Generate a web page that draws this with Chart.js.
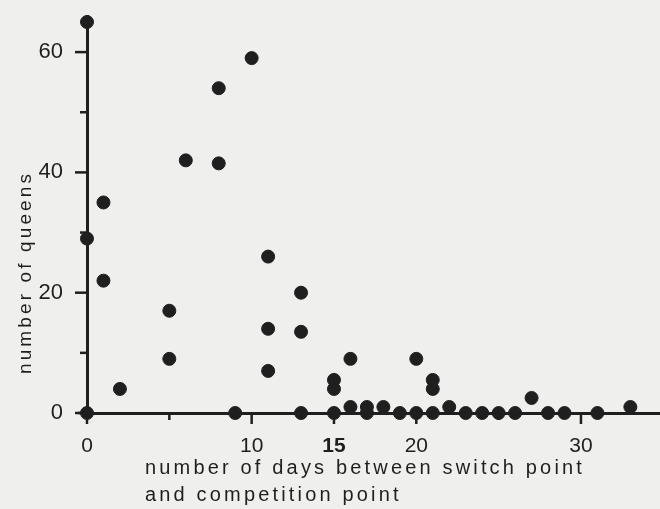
<!DOCTYPE html>
<html>
<head>
<meta charset="utf-8">
<script src="https://cdn.jsdelivr.net/npm/chart.js@4/dist/chart.umd.min.js"></script>
<style>
  html, body { margin: 0; padding: 0; background: #efefed; }
  #wrap { width: 660px; height: 509px; }
</style>
</head>
<body>
<div id="wrap"><canvas id="queensChart" width="660" height="509"></canvas></div>
<script>
// days between switch point and competition point, and number of queens
const days   = [0, 0, 0, 1, 1, 2, 5, 5, 6, 8, 8, 9, 10, 11, 11, 11, 13, 13, 13, 15, 15, 15, 16, 16, 17, 17, 18, 19, 20, 20, 21, 21, 21, 22, 23, 24, 25, 26, 27, 28, 29, 31, 33];
const queens = [65, 29, 0, 35, 22, 4, 17, 9, 42, 54, 41.5, 0, 59, 26, 14, 7, 20, 13.5, 0, 5.5, 4, 0, 9, 1, 1, 0, 1, 0, 9, 0, 5.5, 4, 0, 1, 0, 0, 0, 0, 2.5, 0, 0, 0, 1];

const xTicks = [0, 5, 10, 15, 20, 25, 30];
const xLabels = ["0", "", "10", "15", "20", "", "30"];
const yTicks = [0, 10, 20, 30, 40, 50, 60];
const yLabels = ["0", "", "20", "", "40", "", "60"];

const xTitle = ["number of days between switch point", "and competition point"];
const yTitle = "number of queens";

const ink = "#1f1f1f";
const face = "'Liberation Sans', Arial, sans-serif";

// tick marks and axis titles
const axisDecor = {
  id: "axisDecor",
  afterDraw(chart) {
    const ctx = chart.ctx;
    const xs = chart.scales.x, ys = chart.scales.y;
    const x0 = xs.getPixelForValue(0), y0 = ys.getPixelForValue(0);
    ctx.save();
    ctx.strokeStyle = ink;
    ctx.lineWidth = 2.5;
    ctx.beginPath();
    ctx.moveTo(x0 - 9, y0);
    ctx.lineTo(x0, y0);
    ctx.stroke();
    yTicks.forEach((v, i) => {
      const p = ys.getPixelForValue(v);
      const len = yLabels[i] ? 12 : 7;
      ctx.beginPath();
      ctx.moveTo(x0 - len, p);
      ctx.lineTo(x0, p);
      ctx.stroke();
    });
    xTicks.forEach((v, i) => {
      const p = xs.getPixelForValue(v);
      const len = xLabels[i] ? 11 : 7;
      ctx.beginPath();
      ctx.moveTo(p, y0);
      ctx.lineTo(p, y0 + len);
      ctx.stroke();
    });

    ctx.fillStyle = ink;
    ctx.textAlign = "left";
    ctx.textBaseline = "alphabetic";
    // spread letters to the width of the printed caption
    ctx.font = "20px " + face;
    ctx.letterSpacing = "0px";
    const w1 = ctx.measureText(xTitle[0]).width;
    ctx.letterSpacing = ((437 - w1) / (xTitle[0].length - 1)).toFixed(2) + "px";
    ctx.fillText(xTitle[0], 145, 474);
    ctx.fillText(xTitle[1], 145, 501);

    ctx.font = "19px " + face;
    ctx.letterSpacing = "0px";
    const w2 = ctx.measureText(yTitle).width;
    ctx.letterSpacing = ((200 - w2) / (yTitle.length - 1)).toFixed(2) + "px";
    ctx.translate(31, 374);
    ctx.rotate(-Math.PI / 2);
    ctx.fillText(yTitle, 0, 0);
    ctx.restore();
  }
};

new Chart(document.getElementById("queensChart").getContext("2d"), {
  type: "scatter",
  data: {
    datasets: [
      {
        data: days.map((d, i) => ({ x: d, y: queens[i] })),
        backgroundColor: ink,
        borderColor: ink,
        borderWidth: 1,
        pointRadius: 6.5,
        clip: false,
      },
    ],
  },
  options: {
    responsive: false,
    animation: false,
    layout: { autoPadding: false, padding: { top: 16, right: 0, bottom: 0, left: 0 } },
    plugins: { legend: { display: false }, tooltip: { enabled: false } },
    scales: {
      x: {
        type: "linear",
        min: 0,
        max: 34.8,
        afterFit(scale) {
          scale.height = 96;
          scale.paddingLeft = 0;
          scale.paddingRight = 0;
        },
        afterBuildTicks(scale) { scale.ticks = xTicks.map(v => ({ value: v })); },
        grid: { display: false, drawTicks: false },
        border: { display: true, color: ink, width: 3 },
        ticks: {
          autoSkip: false,
          maxRotation: 0,
          padding: 21,
          color: ink,
          font: ctx => ({
            family: face,
            size: 21,
            weight: ctx.tick && ctx.tick.value === 15 ? "bold" : "normal",
          }),
          callback: (v, i) => xLabels[i],
        },
      },
      y: {
        min: 0,
        max: 66,
        afterFit(scale) {
          scale.width = 87;
          scale.paddingTop = 0;
          scale.paddingBottom = 0;
        },
        afterBuildTicks(scale) { scale.ticks = yTicks.map(v => ({ value: v })); },
        grid: { display: false, drawTicks: false },
        border: { display: true, color: ink, width: 3 },
        ticks: {
          autoSkip: false,
          padding: 24,
          color: ink,
          font: { family: face, size: 22 },
          callback: (v, i) => yLabels[i],
        },
      },
    },
  },
  plugins: [axisDecor],
});
</script>
</body>
</html>
